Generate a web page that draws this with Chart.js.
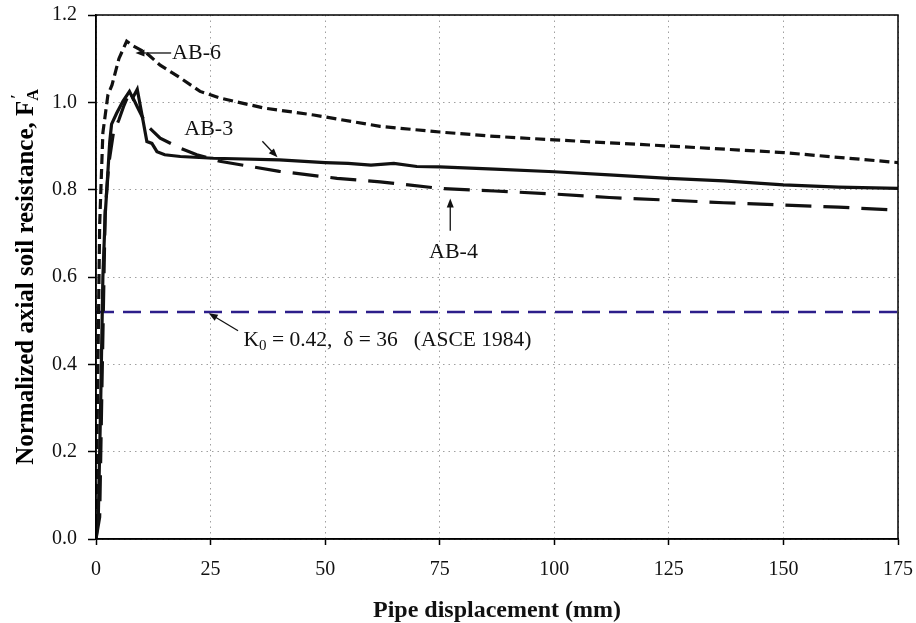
<!DOCTYPE html>
<html>
<head>
<meta charset="utf-8">
<script src="https://cdn.jsdelivr.net/npm/chart.js@4.4.1/dist/chart.umd.min.js"></script>
<style>
  body { margin: 0; background: #fff; }
  canvas { display: block; }
</style>
</head>
<body>
<canvas id="resistanceChart" width="916" height="623"></canvas>
<script>
// displacement (mm) and normalized axial soil resistance
var ab3X = [0, 0.5, 1, 1.5, 2, 3, 3.4, 4.5, 5.9, 7.3, 8.0, 9.0, 10.3, 11.1, 12.2, 13.3, 15, 18.4, 25.6, 40, 50, 55, 60, 65, 70, 75, 87, 100, 112, 125, 137, 150, 162, 175];
var ab3Y = [0, 0.05, 0.3, 0.6, 0.74, 0.91, 0.95, 0.975, 1.003, 1.025, 1.01, 1.03, 0.956, 0.91, 0.906, 0.887, 0.88, 0.876, 0.872, 0.868, 0.862, 0.86, 0.856, 0.86, 0.853, 0.852, 0.847, 0.841, 0.834, 0.826, 0.82, 0.811, 0.806, 0.803];

var ab4X = [0, 0.8, 1.3, 2, 2.8, 3.8, 5, 6, 7.4, 9, 11, 14, 18.4, 22, 27, 40, 52.6, 62, 75, 87, 100, 112, 125, 137, 150, 162, 175];
var ab4Y = [0, 0.05, 0.35, 0.75, 0.86, 0.93, 0.96, 0.99, 1.025, 0.99, 0.948, 0.918, 0.895, 0.88, 0.865, 0.842, 0.826, 0.818, 0.803, 0.797, 0.79, 0.782, 0.776, 0.77, 0.765, 0.76, 0.753];

var ab6X = [0, 0.3, 0.8, 1.5, 2.6, 3.5, 5, 6.7, 8, 11, 14, 18.4, 22.7, 27, 36.6, 47.5, 62, 75, 87, 100, 125, 150, 175];
var ab6Y = [0, 0.3, 0.72, 0.93, 1.017, 1.04, 1.10, 1.14, 1.13, 1.113, 1.085, 1.056, 1.025, 1.01, 0.987, 0.971, 0.945, 0.932, 0.922, 0.914, 0.90, 0.885, 0.862];

var asceX = [0, 175];
var asceY = [0.52, 0.52];

var xTicks = [0, 25, 50, 75, 100, 125, 150, 175];
var yTicks = [0, 0.2, 0.4, 0.6, 0.8, 1.0, 1.2];

function pairs(xs, ys) {
    var out = [];
    for (var i = 0; i < xs.length; i++) out.push({x: xs[i], y: ys[i]});
    return out;
}

var serif = "'Liberation Serif', 'Times New Roman', serif";

// callouts, in data units
var callouts = [
    {text: 'AB-6', at: [16.6, 1.113], from: [16.4, 1.113], to: [8.6, 1.113]},
    {text: 'AB-3', at: [24.6, 0.938], from: [36.3, 0.911], to: [39.6, 0.874], center: true},
    {text: 'AB-4', at: [78, 0.656], from: [77.3, 0.706], to: [77.3, 0.78], center: true},
    {text: 'K0', at: [32.2, 0.455], from: [31, 0.477], to: [24.6, 0.517]}
];

function arrow(ctx, x1, y1, x2, y2) {
    var ang = Math.atan2(y2 - y1, x2 - x1);
    ctx.beginPath();
    ctx.moveTo(x1, y1);
    ctx.lineTo(x2 - 6 * Math.cos(ang), y2 - 6 * Math.sin(ang));
    ctx.stroke();
    ctx.beginPath();
    ctx.moveTo(x2, y2);
    ctx.lineTo(x2 - 9 * Math.cos(ang) + 3.5 * Math.sin(ang), y2 - 9 * Math.sin(ang) - 3.5 * Math.cos(ang));
    ctx.lineTo(x2 - 9 * Math.cos(ang) - 3.5 * Math.sin(ang), y2 - 9 * Math.sin(ang) + 3.5 * Math.cos(ang));
    ctx.closePath();
    ctx.fill();
}

var decorPlugin = {
    id: 'decor',
    afterDraw: function(chart) {
        var ctx = chart.ctx;
        var xs = chart.scales.x, ys = chart.scales.y;
        var area = chart.chartArea;
        ctx.save();
        // frame
        ctx.strokeStyle = '#000';
        ctx.lineWidth = 1.5;
        ctx.strokeRect(area.left, area.top, area.right - area.left, area.bottom - area.top);

        // callouts
        ctx.fillStyle = '#111';
        ctx.strokeStyle = '#111';
        ctx.lineWidth = 1.3;
        callouts.forEach(function(c) {
            arrow(ctx, xs.getPixelForValue(c.from[0]), ys.getPixelForValue(c.from[1]),
                  xs.getPixelForValue(c.to[0]), ys.getPixelForValue(c.to[1]));
            var px = xs.getPixelForValue(c.at[0]), py = ys.getPixelForValue(c.at[1]);
            ctx.font = '22px ' + serif;
            ctx.textBaseline = 'middle';
            if (c.text === 'K0') {
                ctx.textAlign = 'left';
                ctx.font = '21.5px ' + serif;
                ctx.fillText('K', px, py);
                var w = ctx.measureText('K').width;
                ctx.font = '15px ' + serif;
                ctx.fillText('0', px + w, py + 6);
                var w2 = ctx.measureText('0').width;
                ctx.font = '21.5px ' + serif;
                ctx.fillText(' = 0.42,  \u03b4 = 36   (ASCE 1984)', px + w + w2, py);
            } else {
                ctx.textAlign = c.center ? 'center' : 'left';
                ctx.fillText(c.text, px, py);
            }
        });

        // y axis title with F'A
        var main = 'Normalized axial soil resistance, F';
        ctx.translate(27, (area.top + area.bottom) / 2);
        ctx.rotate(-Math.PI / 2);
        ctx.font = 'bold 25px ' + serif;
        var wMain = ctx.measureText(main).width;
        ctx.font = 'bold 16px ' + serif;
        var wSub = ctx.measureText('A').width;
        var x0 = -(wMain + wSub) / 2;
        ctx.fillStyle = '#000';
        ctx.textAlign = 'left';
        ctx.textBaseline = 'middle';
        ctx.font = 'bold 25px ' + serif;
        ctx.fillText(main, x0, 0);
        ctx.font = 'bold 16px ' + serif;
        ctx.fillText('A', x0 + wMain, 7);
        ctx.fillText('\u2032', x0 + wMain + 2, -9);
        ctx.restore();
    }
};

var ctx = document.getElementById('resistanceChart').getContext('2d');
var config = {
    type: 'line',
    data: {
        datasets: [
            {
                label: 'AB-6',
                data: pairs(ab6X, ab6Y),
                borderColor: '#111',
                borderWidth: 3.2,
                borderDash: [10, 5]
            },
            {
                label: 'AB-3',
                data: pairs(ab3X, ab3Y),
                borderColor: '#111',
                borderWidth: 3.2
            },
            {
                label: 'AB-4',
                data: pairs(ab4X, ab4Y),
                borderColor: '#111',
                borderWidth: 3.2,
                borderDash: [26, 12]
            },
            {
                label: 'ASCE 1984',
                data: pairs(asceX, asceY),
                borderColor: '#2c1e8a',
                borderWidth: 2.5,
                borderDash: [18, 9]
            }
        ]
    },
    options: {
        responsive: false,
        animation: false,
        events: [],
        layout: {padding: {top: 15, right: 18, left: 0, bottom: 0}},
        elements: {
            point: {radius: 0},
            line: {tension: 0, fill: false}
        },
        plugins: {
            legend: {display: false},
            tooltip: {enabled: false}
        },
        scales: {
            x: {
                type: 'linear',
                min: 0,
                max: 175,
                afterFit: function(scale) {
                    scale.height = 84;
                    scale.paddingLeft = 0;
                    scale.paddingRight = 0;
                },
                afterBuildTicks: function(scale) {
                    scale.ticks = xTicks.map(function(v) { return {value: v}; });
                },
                border: {color: '#000', width: 1.5, dash: [1.5, 4]},
                grid: {
                    color: '#a0a0a0',
                    lineWidth: 1,
                    tickColor: '#000',
                    tickWidth: 1.5,
                    tickLength: 6
                },
                ticks: {
                    color: '#111',
                    padding: 13,
                    font: {family: serif, size: 20},
                    maxRotation: 0
                },
                title: {
                    display: true,
                    text: 'Pipe displacement (mm)',
                    color: '#111',
                    font: {family: serif, size: 24, weight: 'bold', lineHeight: 1},
                    padding: {top: 0, bottom: 0}
                }
            },
            y: {
                type: 'linear',
                min: 0,
                max: 1.2,
                afterFit: function(scale) {
                    scale.width = 96;
                    scale.paddingTop = 0;
                    scale.paddingBottom = 0;
                },
                afterBuildTicks: function(scale) {
                    scale.ticks = yTicks.map(function(v) { return {value: v}; });
                },
                border: {color: '#000', width: 1.5, dash: [1.5, 4]},
                grid: {
                    color: '#a0a0a0',
                    lineWidth: 1,
                    tickColor: '#000',
                    tickWidth: 1.5,
                    tickLength: 8
                },
                ticks: {
                    color: '#111',
                    padding: 11,
                    font: {family: serif, size: 20},
                    callback: function(v) { return v.toFixed(1); }
                }
            }
        }
    },
    plugins: [decorPlugin]
};
var resistanceChart = new Chart(ctx, config);
</script>
</body>
</html>
